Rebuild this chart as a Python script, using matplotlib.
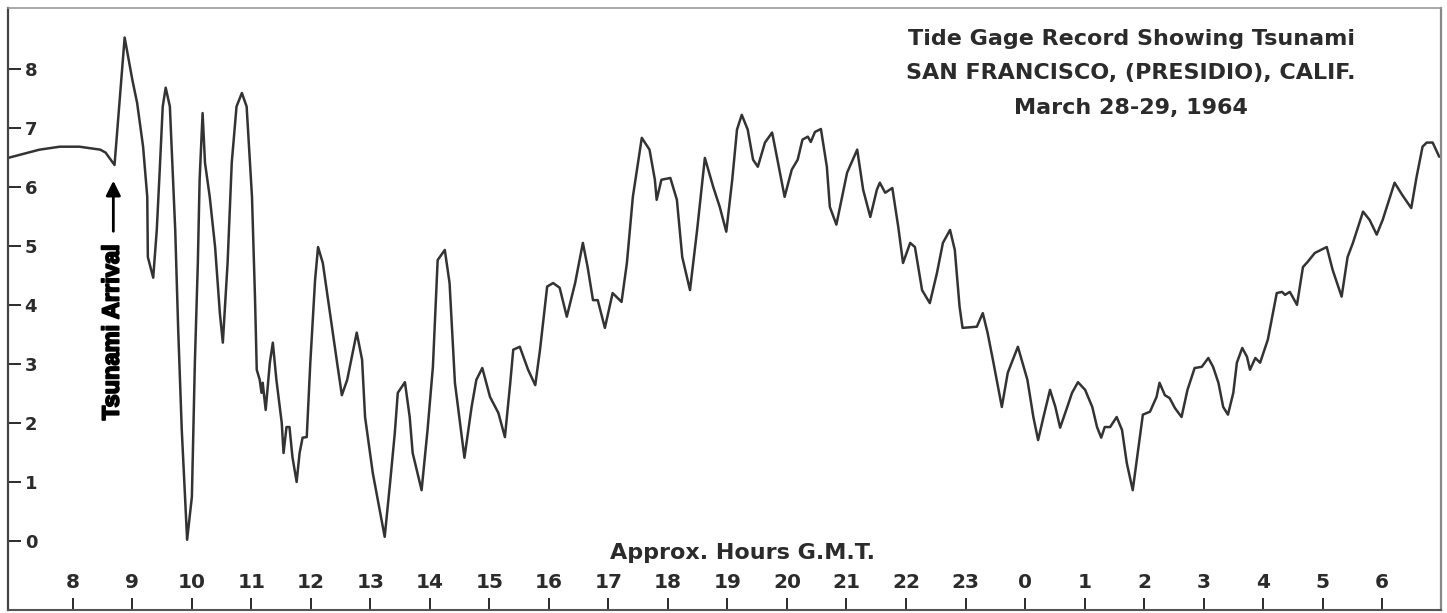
import matplotlib
matplotlib.use("Agg")
import matplotlib.pyplot as plt
import matplotlib.patheffects as pe

# Tide gauge trace, San Francisco (Presidio), 28-29 March 1964
# hours since 00 GMT on March 28 (24 = 0h on the 29th), level in feet
hours = [6.91, 7.44, 7.78, 8.11, 8.46, 8.55, 8.70, 8.87, 9.00, 9.08,
         9.18, 9.25, 9.26, 9.35, 9.41, 9.46, 9.51, 9.56, 9.63, 9.72,
         9.77, 9.83, 9.92, 10.00, 10.05, 10.10, 10.13, 10.18, 10.22, 10.30,
         10.39, 10.47, 10.52, 10.60, 10.67, 10.75, 10.84, 10.92, 11.01, 11.06,
         11.09, 11.14, 11.17, 11.19, 11.24, 11.31, 11.36, 11.42, 11.51, 11.54,
         11.59, 11.64, 11.69, 11.76, 11.81, 11.86, 11.93, 11.99, 12.07, 12.12,
         12.20, 12.32, 12.44, 12.52, 12.61, 12.77, 12.86, 12.91, 13.04, 13.24,
         13.33, 13.41, 13.46, 13.58, 13.66, 13.71, 13.86, 13.96, 14.05, 14.13,
         14.25, 14.33, 14.42, 14.58, 14.70, 14.78, 14.88, 15.01, 15.15, 15.26,
         15.35, 15.40, 15.51, 15.65, 15.77, 15.85, 15.97, 16.07, 16.18, 16.30,
         16.44, 16.57, 16.65, 16.74, 16.82, 16.94, 17.07, 17.22, 17.31, 17.41,
         17.56, 17.69, 17.78, 17.81, 17.89, 18.04, 18.15, 18.24, 18.37, 18.49,
         18.62, 18.76, 18.87, 18.98, 19.08, 19.16, 19.24, 19.34, 19.43, 19.51,
         19.63, 19.75, 19.83, 19.96, 20.08, 20.18, 20.26, 20.35, 20.40, 20.47,
         20.57, 20.67, 20.72, 20.83, 20.94, 21.01, 21.18, 21.28, 21.40, 21.51,
         21.56, 21.65, 21.77, 21.87, 21.95, 22.07, 22.15, 22.27, 22.40, 22.52,
         22.62, 22.74, 22.82, 22.90, 22.95, 23.19, 23.29, 23.37, 23.46, 23.61,
         23.71, 23.88, 24.04, 24.14, 24.22, 24.31, 24.42, 24.51, 24.59, 24.71,
         24.79, 24.89, 25.01, 25.13, 25.21, 25.28, 25.34, 25.43, 25.54, 25.63,
         25.71, 25.81, 25.90, 25.98, 26.10, 26.21, 26.26, 26.35, 26.43, 26.52,
         26.63, 26.73, 26.85, 26.97, 27.08, 27.16, 27.25, 27.33, 27.41, 27.50,
         27.56, 27.65, 27.73, 27.78, 27.87, 27.95, 28.08, 28.23, 28.32, 28.37,
         28.45, 28.57, 28.67, 28.75, 28.87, 29.07, 29.17, 29.32, 29.42, 29.51,
         29.68, 29.79, 29.91, 30.01, 30.21, 30.34, 30.49, 30.58, 30.68, 30.75,
         30.85, 30.96]
level_ft = [6.49, 6.63, 6.68, 6.68, 6.63, 6.58, 6.37, 8.53, 7.81, 7.42,
            6.68, 5.83, 4.81, 4.46, 5.27, 6.29, 7.36, 7.68, 7.36, 5.27,
            3.58, 1.88, 0.02, 0.75, 3.02, 4.71, 6.12, 7.25, 6.41, 5.83,
            4.98, 3.86, 3.36, 4.71, 6.41, 7.36, 7.59, 7.36, 5.83, 4.14,
            2.90, 2.73, 2.51, 2.68, 2.22, 3.02, 3.36, 2.73, 2.00, 1.49,
            1.93, 1.93, 1.42, 1.00, 1.49, 1.75, 1.76, 3.02, 4.42, 4.98,
            4.71, 3.86, 3.02, 2.47, 2.73, 3.53, 3.07, 2.10, 1.15, 0.07,
            0.98, 1.83, 2.51, 2.69, 2.10, 1.49, 0.86, 1.88, 2.95, 4.76,
            4.93, 4.37, 2.68, 1.41, 2.27, 2.73, 2.93, 2.44, 2.17, 1.76,
            2.68, 3.24, 3.29, 2.90, 2.64, 3.24, 4.31, 4.37, 4.29, 3.80,
            4.37, 5.05, 4.64, 4.08, 4.08, 3.61, 4.20, 4.05, 4.71, 5.83,
            6.83, 6.63, 6.12, 5.78, 6.12, 6.15, 5.78, 4.81, 4.25, 5.27,
            6.49, 6.00, 5.66, 5.24, 6.12, 6.97, 7.22, 6.97, 6.46, 6.34,
            6.75, 6.92, 6.51, 5.83, 6.29, 6.46, 6.80, 6.85, 6.76, 6.93,
            6.98, 6.34, 5.66, 5.36, 5.90, 6.24, 6.63, 5.95, 5.49, 5.95,
            6.07, 5.90, 5.98, 5.32, 4.71, 5.05, 4.98, 4.25, 4.03, 4.54,
            5.05, 5.27, 4.93, 3.97, 3.61, 3.63, 3.86, 3.53, 3.07, 2.27,
            2.85, 3.29, 2.73, 2.10, 1.71, 2.10, 2.56, 2.27, 1.92, 2.27,
            2.51, 2.69, 2.56, 2.27, 1.93, 1.75, 1.93, 1.93, 2.10, 1.88,
            1.32, 0.86, 1.54, 2.14, 2.19, 2.44, 2.68, 2.47, 2.42, 2.25,
            2.10, 2.56, 2.93, 2.95, 3.10, 2.95, 2.68, 2.27, 2.14, 2.51,
            3.02, 3.27, 3.12, 2.90, 3.10, 3.02, 3.41, 4.20, 4.22, 4.17,
            4.22, 4.00, 4.64, 4.73, 4.88, 4.98, 4.59, 4.14, 4.81, 5.05,
            5.58, 5.44, 5.19, 5.44, 6.07, 5.86, 5.64, 6.17, 6.68, 6.75,
            6.75, 6.51]

tick_hours = list(range(8, 31))
tick_labels = [str(h % 24) for h in tick_hours]
y_ticks = list(range(0, 9))

title_lines = ["Tide Gage Record Showing Tsunami",
               "SAN FRANCISCO, (PRESIDIO), CALIF.",
               "March 28-29, 1964"]

ink = "#2b2b2b"

fig = plt.figure(figsize=(14.47, 6.13), dpi=100)
ax = fig.add_axes([8 / 1447, 3 / 613, 1433 / 1447, 602 / 613])

ax.plot(hours, level_ft, color="#333333", linewidth=1.8,
        solid_joinstyle="round", solid_capstyle="round")

ax.set_xlim(6.91, 30.99)
ax.set_ylim(-1.17, 9.03)

# ticks point inward, labels sit inside the frame
ax.set_xticks(tick_hours, labels=tick_labels)
ax.set_yticks(y_ticks)
ax.tick_params(axis="x", direction="in", length=8.6, width=1.4, color=ink,
               pad=-27, labelsize=14.5, labelcolor=ink)
ax.tick_params(axis="y", direction="in", length=9.5, width=1.4, color=ink,
               pad=-12, labelsize=13, labelcolor=ink)
for lab in ax.get_xticklabels():
    lab.set_fontweight("bold")
for lab in ax.get_yticklabels():
    lab.set_fontweight("bold")
    lab.set_horizontalalignment("left")

ax.spines["left"].set_color("#444444")
ax.spines["left"].set_linewidth(1.6)
ax.spines["bottom"].set_color("#555555")
ax.spines["bottom"].set_linewidth(1.5)
ax.spines["top"].set_color("#999999")
ax.spines["top"].set_linewidth(1.2)
ax.spines["right"].set_color("#888888")
ax.spines["right"].set_linewidth(1.6)

# title block, top right
for txt, ypx in zip(title_lines, [39, 73, 108]):
    fig.text(1131 / 1447, 1 - ypx / 613, txt, ha="center", va="center",
             fontsize=16, fontweight="bold", color=ink)

fig.text(742 / 1447, 1 - 553 / 613, "Approx. Hours G.M.T.", ha="center",
         va="center", fontsize=16, fontweight="bold", color=ink)

# arrival marker
ax.annotate("", xy=(8.68, 6.15), xytext=(8.68, 5.2),
            arrowprops=dict(arrowstyle="-|>", color="black", lw=2,
                            mutation_scale=22))
ax.text(8.66, 3.54, "Tsunami Arrival", rotation=90, ha="center", va="center",
        fontsize=17, fontweight="bold", color="black",
        family=["Liberation Sans Narrow", "Liberation Sans", "DejaVu Sans"],
        path_effects=[pe.withStroke(linewidth=1.3, foreground="black")])

fig.savefig("out.png", dpi=100)
